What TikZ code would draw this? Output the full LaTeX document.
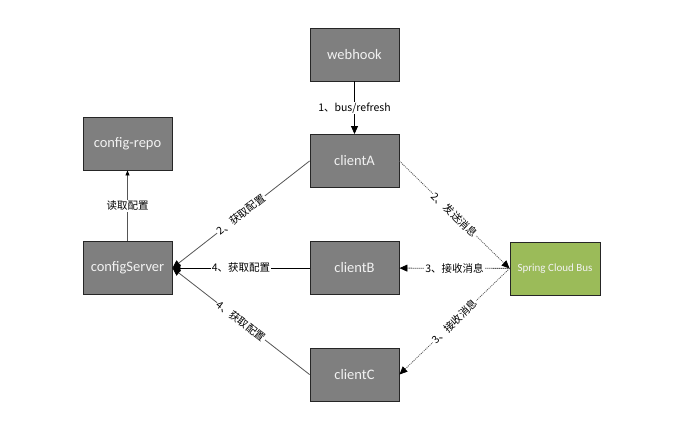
\documentclass[tikz,border=0pt]{standalone}
\usepackage{fontspec}
\setmainfont{Carlito}
\newfontfamily\cjk{Noto Sans CJK SC}
\usetikzlibrary{arrows.meta}
\definecolor{boxgray}{RGB}{127,127,127}
\definecolor{busgreen}{RGB}{155,187,89}
\definecolor{edgegray}{RGB}{38,38,38}
\definecolor{linegray}{RGB}{85,85,85}
\definecolor{boxtext}{RGB}{242,242,242}

\begin{document}
\begin{tikzpicture}[x=1pt,y=-1pt,
  box/.style={draw=edgegray, line width=0.9pt, fill=boxgray, minimum width=89pt,
    minimum height=53pt, inner sep=0pt, text=boxtext, font=\fontsize{14.5}{16}\selectfont},
  busbox/.style={box, fill=busgreen, minimum width=90pt, font=\fontsize{11}{13}\selectfont},
  lbl/.style={fill=white, inner sep=1pt, text=black, font=\cjk\fontsize{10.5}{12}\selectfont},
  tip/.style={-{Triangle[length=8pt,width=7pt,color=black]}},
  solidlink/.style={tip, line width=0.8pt},
  dotlink/.style={tip, line width=0.8pt, dash pattern=on 1pt off 1pt},
]
\useasboundingbox (0,0) rectangle (674,437);

% nodes
\node[box] (webhook) at (354.5,54.5) {webhook};
\node[box] (clientA) at (354.5,161) {clientA};
\node[box] (clientB) at (354.5,268) {clientB};
\node[box] (clientC) at (354.5,374.5) {clientC};
\node[box] (configrepo) at (127.5,143.5) {config-repo};
\node[box] (configServer) at (127.5,268) {configServer};
\node[busbox] (bus) at (555,268.5) {Spring Cloud Bus};

% refresh trigger and config reading
\draw[solidlink, draw=black] (webhook) -- node[lbl] {1、bus/refresh} (clientA);
\draw[draw=linegray, line width=0.8pt, -{Triangle[length=5pt,width=4pt,color=black]}]
  (configServer) -- node[lbl] {读取配置} (configrepo);

% clients fetching configuration
\draw[solidlink, draw=linegray] (clientA.west) -- node[lbl, sloped] {2、获取配置} (configServer.east);
\draw[solidlink, draw=black] (clientB) -- node[lbl] {4、获取配置} (configServer);
\draw[solidlink, draw=linegray] (clientC.west) -- node[lbl, sloped] {4、获取配置} (configServer.east);

% bus messages
\draw[dotlink, draw=linegray] (clientA.east) -- node[lbl, sloped] {2、发送消息} (bus.west);
\draw[dotlink, draw=black] (bus) -- node[lbl] {3、接收消息} (clientB);
\draw[dotlink, draw=linegray] (bus.west) -- node[lbl, sloped] {3、接收消息} (clientC.east);
\end{tikzpicture}
\end{document}
